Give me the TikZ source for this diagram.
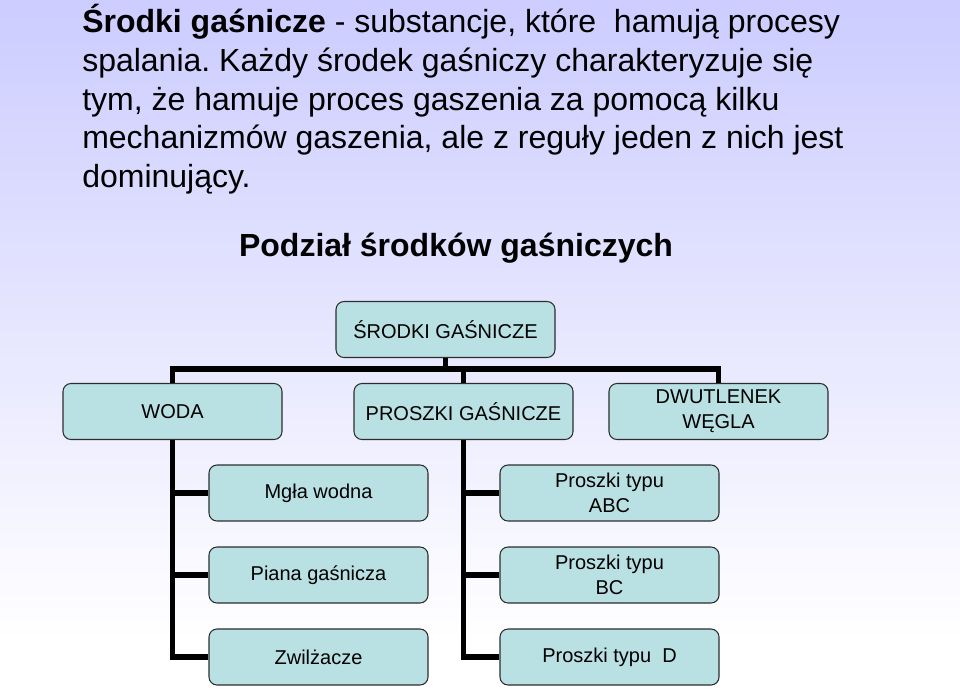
\documentclass[tikz,border=0pt]{standalone}
\usepackage{fontspec}
\setmainfont{Liberation Sans}
\frenchspacing
\definecolor{lav}{RGB}{204,204,255}
\definecolor{boxfill}{RGB}{185,224,226}
\definecolor{boxline}{RGB}{45,45,45}
\tikzset{
  orgbox/.style={draw=boxline, line width=0.8pt, fill=boxfill, rounded corners=6pt,
    minimum width=164.25pt, minimum height=42pt, inner sep=2pt, align=center,
    font=\fontsize{15}{18.5}\selectfont, text=black},
  conn/.style={line width=3.8pt, black, line join=miter},
  headline/.style={anchor=base west, inner sep=0pt, font=\fontsize{24}{28.9}\selectfont, text=black}
}
\begin{document}
\begin{tikzpicture}[x=0.75pt, y=-0.75pt]
\useasboundingbox (0,0) rectangle (960,699);
\shade[top color=lav, bottom color=white] (0,0) rectangle (960,640);
\fill[white] (0,640) rectangle (960,699);

% heading text
\node[headline] (h1) at (82,33) {\textbf{Środki gaśnicze} - substancje, które~ hamują procesy};
\node[headline] (h2) at (82,71.5) {spalania. Każdy środek gaśniczy charakteryzuje się};
\node[headline] (h3) at (82,110) {tym, że hamuje proces gaszenia za pomocą kilku};
\node[headline] (h4) at (82,148.5) {mechanizmów gaszenia, ale z reguły jeden z nich jest};
\node[headline] (h5) at (82,187) {dominujący.};

\node[anchor=base, inner sep=0pt, font=\fontsize{24}{28.9}\selectfont\bfseries] (title) at (456,256) {Podział środków gaśniczych};

% boxes
\node[orgbox] (root) at (445.5,329.5) {ŚRODKI GAŚNICZE};
\node[orgbox] (woda) at (172.5,411.5) {WODA};
\node[orgbox] (prosz) at (463.5,411.5) {PROSZKI GAŚNICZE};
\node[orgbox] (dwu) at (718.5,411.5) {DWUTLENEK\\WĘGLA};
\node[orgbox] (mgla) at (318.5,493) {Mgła wodna};
\node[orgbox] (piana) at (318.5,575) {Piana gaśnicza};
\node[orgbox] (zwil) at (318.5,657) {Zwilżacze};
\node[orgbox] (pabc) at (609.5,493) {Proszki typu\\ABC};
\node[orgbox] (pbc) at (609.5,575) {Proszki typu\\BC};
\node[orgbox] (pd) at (609.5,657) {Proszki typu~ D};

% connectors
\coordinate (barY) at (0,369);
\draw[conn] (root.south) -- (root.south |- barY);
\draw[conn] (woda.north) -- (woda.north |- barY) -- (dwu.north |- barY) -- (dwu.north);
\draw[conn] (prosz.north) -- (prosz.north |- barY);

\draw[conn] (woda.south) |- (zwil.west);
\draw[conn] (mgla.west) -- (mgla.west -| woda.south);
\draw[conn] (piana.west) -- (piana.west -| woda.south);

\draw[conn] (prosz.south) |- (pd.west);
\draw[conn] (pabc.west) -- (pabc.west -| prosz.south);
\draw[conn] (pbc.west) -- (pbc.west -| prosz.south);
\end{tikzpicture}
\end{document}
